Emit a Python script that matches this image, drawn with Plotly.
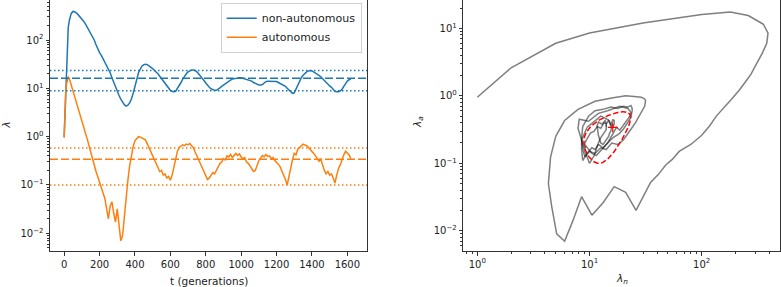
import numpy as np
import plotly.graph_objects as go

# ---------------- data ----------------
t_early = [0, 3, 6, 9, 13, 18, 23, 30, 40, 50, 62, 75, 90]
t_late = list(range(100, 1621, 10))
t = t_early + t_late

lam_n_early = [1.0, 2.0, 5.0, 10, 30, 100, 180, 260, 355, 390, 380, 347, 302]
lam_n_late = [
    275, 245, 215, 185, 158, 135, 118, 100, 80, 63,
    55, 48, 41, 35, 30, 26, 21, 16.6, 13.2, 10.5,
    8.5, 7.1, 6.0, 5.1, 4.6, 4.3, 4.5, 5.0, 6.0, 7.9,
    11.2, 15.8, 21, 25, 29, 31, 31.6, 31, 29.5, 27.5,
    25.7, 23.4, 21.9, 20, 17.8, 15.8, 14.1, 12.6, 11.2, 10,
    9.1, 8.7, 8.5, 8.7, 9.8, 11.2, 13.2, 15.5, 17.8, 20,
    21.9, 23.4, 24, 24, 23.4, 21.9, 20, 18.2, 16.2, 14.5,
    12.9, 11.5, 10.5, 9.8, 9.3, 9.1, 9.1, 9.5, 10.2, 11,
    11.7, 12.6, 13.5, 14.1, 14.8, 15.5, 15.8, 16.2, 16.6, 16.6,
    16.6, 16.2, 15.8, 15.5, 15.1, 14.8, 14.1, 13.2, 12.6, 12,
    11.7, 11.7, 12, 12.9, 13.8, 14.1, 14.1, 14.1, 14.1, 14.1,
    13.8, 13.2, 12.6, 12, 11.5, 11, 10, 9.1, 8.3, 7.9,
    8.1, 9.8, 12, 14.5, 16.6, 18.6, 20.4, 21.9, 22.9, 23.4,
    22.9, 21.9, 20.9, 20, 18.6, 17.4, 15.8, 14.5, 13.2, 12,
    11.2, 10.5, 9.5, 8.7, 8.5, 8.5, 8.9, 9.5, 11, 12.6,
    14.1, 15.1, 15.5,
]
lam_n = lam_n_early + lam_n_late

lam_a_early = [0.95, 2.6, 6.0, 8.5, 12, 16, 17.5, 15.5, 11.5, 8.5, 6.0, 4.3, 2.8]
lam_a_late = [
    2.1, 1.6, 1.2, 0.9, 0.68, 0.5, 0.36, 0.26, 0.19, 0.15,
    0.115, 0.095, 0.068, 0.052, 0.031, 0.02, 0.037, 0.045, 0.026, 0.017,
    0.032, 0.014, 0.007, 0.009, 0.023, 0.05, 0.125, 0.25, 0.43, 0.63,
    0.83, 0.93, 1.0, 0.98, 0.95, 0.9, 0.85, 0.7, 0.6, 0.48,
    0.4, 0.32, 0.27, 0.22, 0.19, 0.2, 0.16, 0.17, 0.14, 0.15,
    0.125, 0.16, 0.24, 0.35, 0.5, 0.6, 0.63, 0.68, 0.65, 0.7,
    0.68, 0.72, 0.65, 0.6, 0.48, 0.4, 0.32, 0.27, 0.24, 0.2,
    0.16, 0.13, 0.14, 0.16, 0.18, 0.17, 0.2, 0.23, 0.28, 0.3,
    0.35, 0.33, 0.4, 0.38, 0.43, 0.37, 0.42, 0.45, 0.41, 0.44,
    0.38, 0.35, 0.37, 0.3, 0.28, 0.25, 0.22, 0.19, 0.2, 0.26,
    0.32, 0.36, 0.41, 0.38, 0.43, 0.39, 0.4, 0.35, 0.37, 0.32,
    0.3, 0.27, 0.24, 0.2, 0.16, 0.13, 0.1, 0.15, 0.24, 0.33,
    0.45, 0.42, 0.55, 0.6, 0.66, 0.7, 0.67, 0.65, 0.6, 0.55,
    0.5, 0.45, 0.4, 0.36, 0.31, 0.34, 0.25, 0.2, 0.17, 0.19,
    0.16, 0.17, 0.14, 0.11, 0.16, 0.22, 0.26, 0.34, 0.42, 0.5,
    0.46, 0.42, 0.35,
]
lam_a = lam_a_early + lam_a_late

# summary statistics (mean, std, correlation)
mean_n, std_n = 16.1, 7.2
mean_a, std_a = 0.34, 0.24
rho = 0.55

series_names = ["non-autonomous", "autonomous"]
x_tick_vals = [0, 200, 400, 600, 800, 1000, 1200, 1400, 1600]
log_ticks_left = [0.01, 0.1, 1, 10, 100]
log_ticks_left_text = ["10<sup>−2</sup>", "10<sup>−1</sup>", "10<sup>0</sup>", "10<sup>1</sup>", "10<sup>2</sup>"]
log_ticks_rx = [1, 10, 100]
log_ticks_rx_text = ["10<sup>0</sup>", "10<sup>1</sup>", "10<sup>2</sup>"]
log_ticks_ry = [0.01, 0.1, 1, 10]
log_ticks_ry_text = ["10<sup>−2</sup>", "10<sup>−1</sup>", "10<sup>0</sup>", "10<sup>1</sup>"]

# ---------------- style ----------------
W, H = 781, 287
BLUE = "#1f77b4"
ORANGE = "#ff7f0e"
AX = "#333333"
FONT = "DejaVu Sans"
DASH = "8px,3px"
DOT = "1.5px,2.5px"

xr_left = [-80, 1711]


def minor_vals(lo, hi):
    out = []
    for k in range(lo, hi + 1):
        for m in range(2, 10):
            out.append(m * 10.0 ** k)
    return out


fig = go.Figure()

# left panel: time series
fig.add_trace(go.Scatter(x=t, y=lam_n, mode="lines", name=series_names[0],
                         line=dict(color=BLUE, width=1.5), xaxis="x", yaxis="y"))
fig.add_trace(go.Scatter(x=t, y=lam_a, mode="lines", name=series_names[1],
                         line=dict(color=ORANGE, width=1.5), xaxis="x", yaxis="y"))

# mean and mean +/- std lines
for m, s, c in [(mean_n, std_n, BLUE), (mean_a, std_a, ORANGE)]:
    fig.add_trace(go.Scatter(x=xr_left, y=[m, m], mode="lines", showlegend=False,
                             line=dict(color=c, width=1.5, dash=DASH), xaxis="x", yaxis="y",
                             hoverinfo="skip"))
    for v in (m - s, m + s):
        fig.add_trace(go.Scatter(x=xr_left, y=[v, v], mode="lines", showlegend=False,
                                 line=dict(color=c, width=1.5, dash=DOT), xaxis="x", yaxis="y",
                                 hoverinfo="skip"))

# right panel: phase plot (in chunks so overlaps darken)
chunk = 8
for i in range(0, len(t) - 1, chunk):
    fig.add_trace(go.Scatter(x=lam_n[i:i + chunk + 1], y=lam_a[i:i + chunk + 1], mode="lines",
                             showlegend=False, line=dict(color="rgba(0,0,0,0.5)", width=1.5),
                             xaxis="x2", yaxis="y2", hoverinfo="skip"))

# covariance ellipse (1 sigma) and mean marker
th = np.linspace(0, 2 * np.pi, 200)
ex = mean_n + std_n * np.cos(th)
ey = mean_a + std_a * (rho * np.cos(th) + np.sqrt(1 - rho ** 2) * np.sin(th))
fig.add_trace(go.Scatter(x=ex, y=ey, mode="lines", showlegend=False,
                         line=dict(color="red", width=1.5, dash="5.5px,2.4px"),
                         xaxis="x2", yaxis="y2", hoverinfo="skip"))
fig.add_trace(go.Scatter(x=[mean_n], y=[mean_a], mode="markers", showlegend=False,
                         marker=dict(symbol="cross-thin", size=7, line=dict(color="red", width=1.2)),
                         xaxis="x2", yaxis="y2", hoverinfo="skip"))

axis_common = dict(showline=True, linecolor=AX, linewidth=1, mirror=True, showgrid=False,
                   zeroline=False, ticks="outside", ticklen=3.5, tickwidth=1, tickcolor=AX,
                   tickfont=dict(family=FONT, size=10, color="#222"), automargin=False)

ytop = 1.0
ybot = 1 - 251 / H

fig.update_layout(
    width=W, height=H,
    margin=dict(l=0, r=0, t=0, b=0),
    paper_bgcolor="white", plot_bgcolor="white",
    font=dict(family=FONT, size=10, color="#222"),
    xaxis=dict(domain=[50 / W, 367 / W], range=xr_left, tickmode="array", tickvals=x_tick_vals,
               anchor="y", **axis_common),
    yaxis=dict(domain=[ybot, ytop], type="log", range=[-2.366, 2.828], tickmode="array",
               tickvals=log_ticks_left, ticktext=log_ticks_left_text, anchor="x",
               minor=dict(ticks="outside", ticklen=2, tickwidth=0.8, tickcolor=AX,
                          tickmode="array", tickvals=minor_vals(-3, 2), showgrid=False),
               **axis_common),
    xaxis2=dict(domain=[463.3 / W, 780 / W], type="log", range=[-0.125, 2.698], tickmode="array",
                tickvals=log_ticks_rx, ticktext=log_ticks_rx_text, anchor="y2",
                minor=dict(ticks="outside", ticklen=2, tickwidth=0.8, tickcolor=AX,
                           tickmode="array", tickvals=minor_vals(-1, 2), showgrid=False),
                **axis_common),
    yaxis2=dict(domain=[ybot, ytop], type="log", range=[-2.30, 1.42], tickmode="array",
                tickvals=log_ticks_ry, ticktext=log_ticks_ry_text, anchor="x2",
                minor=dict(ticks="outside", ticklen=2, tickwidth=0.8, tickcolor=AX,
                           tickmode="array", tickvals=minor_vals(-3, 1), showgrid=False),
                **axis_common),
    legend=dict(x=361.7 / W, y=1 - 2.7 / H, xanchor="right", yanchor="top",
                bgcolor="rgba(255,255,255,0.8)", bordercolor="#d0d0d0", borderwidth=1,
                font=dict(family=FONT, size=11, color="#222"), tracegroupgap=0),
    showlegend=True,
    annotations=[
        dict(text="t (generations)", x=208.5 / W, y=1 - 280.5 / H, xref="paper", yref="paper",
             showarrow=False, xanchor="center", yanchor="middle", font=dict(size=10.5)),
        dict(text="<i>λ</i>", x=5 / W, y=1 - 125.5 / H, xref="paper", yref="paper",
             showarrow=False, xanchor="center", yanchor="middle", textangle=-90, font=dict(size=10.5)),
        dict(text="<i>λ</i><sub><i>n</i></sub>", x=621.7 / W, y=1 - 279 / H, xref="paper", yref="paper",
             showarrow=False, xanchor="center", yanchor="middle", font=dict(size=10.5)),
        dict(text="<i>λ</i><sub><i>a</i></sub>", x=418 / W, y=1 - 122 / H, xref="paper", yref="paper",
             showarrow=False, xanchor="center", yanchor="middle", textangle=-90, font=dict(size=10.5)),
    ],
)

fig.write_html(
    "out.html",
    config={"displayModeBar": False},
    post_script="document.documentElement.style.margin='0';document.documentElement.style.overflow='hidden';"
                "document.body.style.margin='0';document.body.style.padding='0';document.body.style.overflow='hidden';",
)
